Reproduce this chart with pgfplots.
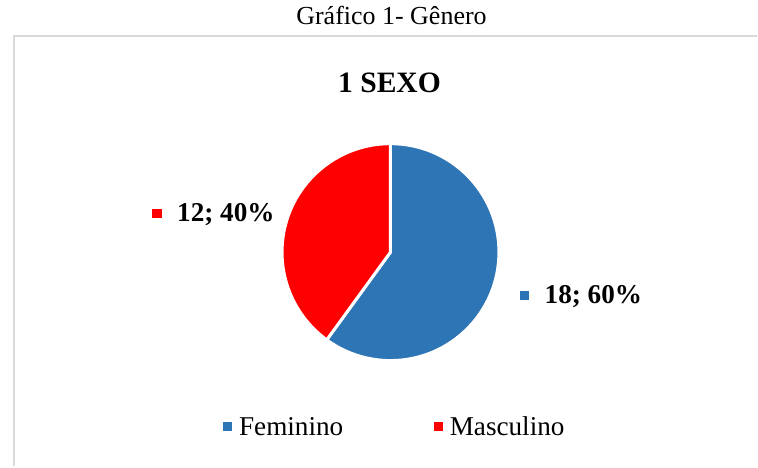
\documentclass[border=0pt]{standalone}
\usepackage{pgfplots}
\pgfplotsset{compat=1.18}
\usepackage{fontspec}
\setmainfont{Liberation Serif}
\definecolor{fem}{RGB}{46,117,182}
\definecolor{masc}{RGB}{255,0,0}
\definecolor{framegray}{RGB}{217,217,217}

\begin{document}
\begin{tikzpicture}
% values
\def\nfem{18}
\def\nmasc{12}
\pgfmathsetmacro\ntot{\nfem+\nmasc}
\pgfmathsetmacro\afem{360*\nfem/\ntot}
\pgfmathsetmacro\amasc{360*\nmasc/\ntot}
\begin{axis}[
  width=379pt, height=232pt, scale only axis,
  xmin=0, xmax=758, ymin=0, ymax=464, y dir=reverse,
  hide axis, clip=false,
]
% bounding box and frame
\path (axis cs:0,0) rectangle (axis cs:758,464);
\draw[framegray, line width=1pt] (axis cs:14,464) -- (axis cs:14,33.5) -- (axis cs:758,33.5);

\node[font=\fontsize{13}{15}\selectfont] at (axis cs:392,13) {Gráfico 1- Gênero};
\node[font=\fontsize{14.8}{17}\selectfont\bfseries] at (axis cs:390,80) {1 SEXO};

% pie
\fill[fem, draw=white, line width=1.5pt] (axis cs:391,249.5) -- ++(90:54.3pt)
  arc[start angle=90, end angle={90-\afem}, radius=54.3pt] -- cycle;
\fill[masc, draw=white, line width=1.5pt] (axis cs:391,249.5) -- ++(90:54.3pt)
  arc[start angle=90, end angle={90+\amasc}, radius=54.3pt] -- cycle;

% data labels
\node[fill=masc, minimum size=4.8pt, inner sep=0pt] at (axis cs:157,211) {};
\node[anchor=west, inner sep=0pt, font=\fontsize{13.6}{16}\selectfont\bfseries] at (axis cs:177,212) {\nmasc; 40\%};
\node[fill=fem, minimum size=4.8pt, inner sep=0pt] at (axis cs:525,293) {};
\node[anchor=west, inner sep=0pt, font=\fontsize{13.6}{16}\selectfont\bfseries] at (axis cs:545,294) {\nfem; 60\%};

% legend
\node[fill=fem, minimum size=4.8pt, inner sep=0pt] at (axis cs:228,424) {};
\node[anchor=west, inner sep=0pt, font=\fontsize{13.6}{16}\selectfont] at (axis cs:239,424) {Feminino};
\node[fill=masc, minimum size=4.8pt, inner sep=0pt] at (axis cs:439,424) {};
\node[anchor=west, inner sep=0pt, font=\fontsize{13.6}{16}\selectfont] at (axis cs:450,424) {Masculino};
\end{axis}
\end{tikzpicture}
\end{document}
